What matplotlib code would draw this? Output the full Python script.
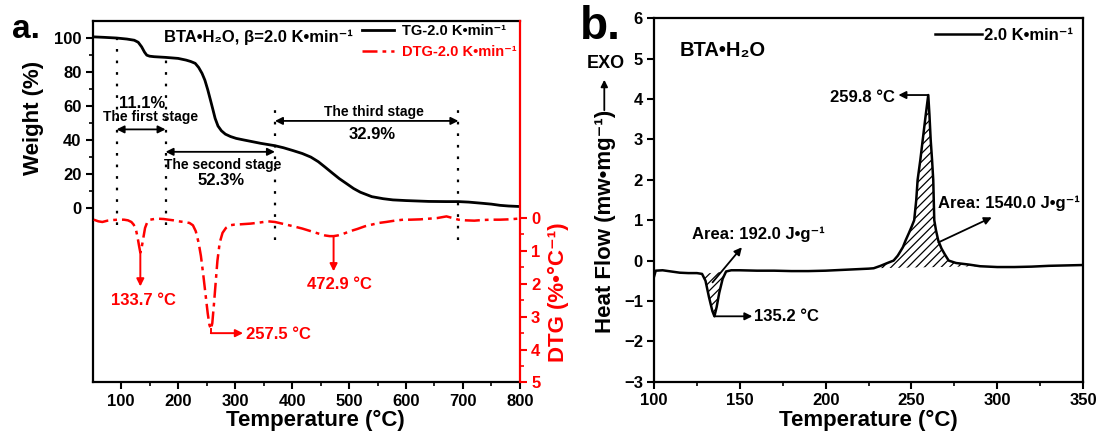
import numpy as np
import matplotlib
matplotlib.use("Agg")
import matplotlib.pyplot as plt
from matplotlib.ticker import FixedLocator, MultipleLocator

plt.rcParams['font.family'] = ['Liberation Sans', 'DejaVu Sans']
plt.rcParams['font.weight'] = 'bold'
plt.rcParams['axes.labelweight'] = 'bold'
plt.rcParams['hatch.linewidth'] = 0.9

# ---------------- data: panel a (TG / DTG) ----------------
tg_T = [50, 70, 92, 110, 123, 130, 136, 141, 145, 150, 158, 178, 200, 214, 222, 230,
        236, 242, 247, 252, 257, 261, 265, 270, 276, 283, 292, 302, 315, 327, 345, 370,
        385, 402, 418, 433, 446, 458, 470, 483, 496, 508, 520, 540, 560, 577, 600, 640,
        670, 692, 710, 734, 750, 765, 780, 800]
tg_W = [100.5, 100.2, 99.8, 99.2, 98.5, 97.3, 94.6, 91.5, 89.7, 89.1, 88.8, 88.4, 87.8,
        86.8, 86.0, 84.9, 82.5, 79.0, 75.0, 69.4, 63.0, 57.8, 52.5, 48.0, 45.2, 43.2,
        41.8, 40.7, 39.8, 39.0, 37.8, 36.4, 35.2, 33.5, 31.8, 29.7, 27.0, 23.8, 20.5,
        17.0, 14.0, 11.2, 9.0, 6.4, 5.2, 4.5, 4.1, 3.6, 3.5, 3.5, 3.2, 2.5, 2.0, 1.3,
        0.9, 0.6]

dtg_T = [52, 60, 67, 76, 85, 95, 105, 112, 118, 122, 126, 129, 131.5, 133.7, 136, 139,
         142, 146, 151, 158, 165, 175, 183, 192, 201, 210, 220, 226, 231, 236, 240, 244,
         248, 252, 255, 257.5, 260, 263, 266, 269, 273, 278, 284, 291, 299, 310, 327,
         342, 358, 370, 385, 402, 418, 433, 446, 458, 466, 472.9, 480, 490, 502, 515,
         528, 540, 552, 565, 580, 595, 608, 625, 640, 655, 671, 682, 692, 705, 720, 734,
         750, 765, 780, 796]
dtg_V = [0.05, 0.1, 0.12, 0.08, 0.06, 0.05, 0.05, 0.07, 0.12, 0.2, 0.35, 0.6, 0.85, 1.05,
         0.9, 0.6, 0.3, 0.12, 0.05, 0.03, 0.02, 0.03, 0.05, 0.07, 0.1, 0.12, 0.15, 0.22,
         0.4, 0.75, 1.15, 1.7, 2.3, 2.9, 3.25, 3.38, 3.2, 2.6, 1.95, 1.3, 0.75, 0.45, 0.3,
         0.22, 0.2, 0.19, 0.17, 0.14, 0.1, 0.12, 0.18, 0.25, 0.32, 0.4, 0.47, 0.53, 0.55,
         0.55, 0.53, 0.48, 0.4, 0.33, 0.25, 0.2, 0.15, 0.12, 0.08, 0.05, 0.05, 0.04, 0.02,
         0.0, -0.05, 0.0, 0.05, 0.07, 0.08, 0.06, 0.05, 0.05, 0.04, 0.02]

dtg_peaks = [133.7, 257.5, 472.9]
stage_bounds = [92, 178, 370, 692]
stage_loss = ['11.1%', '52.3%', '32.9%']

# ---------------- data: panel b (DSC) ----------------
dsc_T = [100, 101, 105, 110, 115, 120, 125, 128, 130, 132, 134, 135.2, 136.5, 138, 140,
         142, 145, 150, 160, 170, 180, 190, 200, 210, 220, 225, 228, 232, 236, 239.6,
         242, 245, 246.6, 248.5, 250.2, 251.6, 252.8, 253.6, 255.2, 256.6, 258.3, 259.8,
         260.5, 261.2, 262.0, 262.7, 263.0, 263.3, 264.3, 265.6, 267.5, 269.5, 271.7,
         276, 283.7, 290, 300, 310, 320, 330, 340, 350]
dsc_H = [-0.4, -0.25, -0.24, -0.27, -0.3, -0.31, -0.31, -0.33, -0.5, -0.9, -1.25, -1.38,
         -1.15, -0.8, -0.45, -0.27, -0.24, -0.24, -0.25, -0.25, -0.26, -0.26, -0.25,
         -0.23, -0.21, -0.2, -0.19, -0.13, -0.06, 0.0, 0.12, 0.33, 0.5, 0.68, 0.85, 1.0,
         1.5, 2.0, 2.5, 3.0, 3.6, 4.1, 3.6, 3.0, 2.5, 2.0, 1.5, 1.0, 0.75, 0.5, 0.3,
         0.15, 0.0, -0.06, -0.1, -0.14, -0.16, -0.16, -0.15, -0.13, -0.12, -0.11]
endo_range = (128, 142)
exo_range = (228, 290)

W, H = 1099, 432
fig = plt.figure(figsize=(W / 100, H / 100), dpi=100)

TICK_FS = 12
LAB_FS = 16
SUP = '⁻¹'

# ================= panel a =================
ax = fig.add_axes([0.0843, 0.1146, 0.3888, 0.8375])
ax2 = ax.twinx()
ax2.set_position([0.0843, 0.1146, 0.3888, 0.8375])

l_tg, = ax.plot(tg_T, tg_W, color='black', lw=2.0)
l_dtg, = ax2.plot(dtg_T, dtg_V, color='red', lw=1.8, linestyle=(0, (6, 2, 1.5, 2)))

ax.set_xlim(50, 800)
ax.set_ylim(-103, 110)
ax2.set_ylim(5, -6)

ax.xaxis.set_major_locator(MultipleLocator(100))
ax.xaxis.set_minor_locator(FixedLocator(np.arange(150, 800, 100)))
ax.yaxis.set_major_locator(FixedLocator(np.arange(0, 101, 20)))
ax.yaxis.set_minor_locator(FixedLocator(np.arange(10, 100, 20)))
ax2.yaxis.set_major_locator(FixedLocator(np.arange(0, 6, 1)))
ax2.yaxis.set_minor_locator(FixedLocator(np.arange(0.5, 5, 1)))

for a in (ax, ax2):
    for s in a.spines.values():
        s.set_linewidth(1.6)
ax.spines['right'].set_visible(False)
ax2.spines['left'].set_visible(False)
ax2.spines['top'].set_visible(False)
ax2.spines['bottom'].set_visible(False)
ax2.spines['right'].set_color('red')

ax.tick_params(axis='both', which='major', direction='out', length=5, width=1.5,
               labelsize=TICK_FS, pad=3)
ax.tick_params(axis='both', which='minor', direction='out', length=3, width=1.2)
ax.tick_params(top=False, right=False, which='both')
ax2.tick_params(axis='y', which='major', direction='out', length=5, width=1.5,
                colors='red', labelsize=TICK_FS, pad=3)
ax2.tick_params(axis='y', which='minor', direction='out', length=3, width=1.2, colors='red')
for t in ax.get_xticklabels() + ax.get_yticklabels() + ax2.get_yticklabels():
    t.set_fontweight('bold')

# vertical dotted stage boundaries
dot = (0, (1.2, 4))
tops = [103, 91.5, 57.5, 57.5]
bots = [-10.5, -10.5, -19, -19]
for xb, t, b in zip(stage_bounds, tops, bots):
    ax.plot([xb, xb], [b, t], color='black', lw=1.6, linestyle=dot)

arrow_kw = dict(arrowstyle='<|-|>', color='black', lw=1.3, mutation_scale=11,
                shrinkA=0, shrinkB=0)
ax.annotate('', xy=(stage_bounds[0], 46), xytext=(stage_bounds[1], 46), arrowprops=arrow_kw)
ax.annotate('', xy=(stage_bounds[1], 32.8), xytext=(stage_bounds[2], 32.8), arrowprops=arrow_kw)
ax.annotate('', xy=(stage_bounds[2], 51), xytext=(stage_bounds[3], 51), arrowprops=arrow_kw)

ax.text(137, 61.5, stage_loss[0], fontsize=12, fontweight='bold', ha='center', va='center')
ax.text(151, 53.3, 'The first stage', fontsize=10, fontweight='bold', ha='center', va='center')
ax.text(278, 25.3, 'The second stage', fontsize=10, fontweight='bold', ha='center', va='center')
ax.text(276, 16.0, stage_loss[1], fontsize=12, fontweight='bold', ha='center', va='center')
ax.text(543, 56.5, 'The third stage', fontsize=10, fontweight='bold', ha='center', va='center')
ax.text(541, 43.2, stage_loss[2], fontsize=12, fontweight='bold', ha='center', va='center')

ax.text(176, 100.4, 'BTA•H₂O, β=2.0 K•min' + SUP, fontsize=12, fontweight='bold',
        ha='left', va='center')

# red peak annotations
rkw = dict(arrowstyle='-|>', color='red', lw=1.4, mutation_scale=11, shrinkA=0, shrinkB=0)
d0 = dtg_V[dtg_T.index(dtg_peaks[0])]
ax2.annotate('', xy=(dtg_peaks[0], 2.08), xytext=(dtg_peaks[0], d0), arrowprops=rkw)
ax2.text(140, 2.5, f'{dtg_peaks[0]} °C', color='red', fontsize=12, fontweight='bold',
         ha='center', va='center')
d1 = dtg_V[dtg_T.index(dtg_peaks[1])]
ax2.plot([dtg_peaks[1], dtg_peaks[1]], [d1, 3.5], color='red', lw=1.4)
ax2.annotate('', xy=(314, 3.5), xytext=(dtg_peaks[1], 3.5), arrowprops=rkw)
ax2.text(319, 3.53, f'{dtg_peaks[1]} °C', color='red', fontsize=12, fontweight='bold',
         ha='left', va='center')
d2 = dtg_V[dtg_T.index(dtg_peaks[2])]
ax2.annotate('', xy=(dtg_peaks[2], 1.62), xytext=(dtg_peaks[2], d2), arrowprops=rkw)
ax2.text(483, 2.03, f'{dtg_peaks[2]} °C', color='red', fontsize=12, fontweight='bold',
         ha='center', va='center')

leg = ax2.legend([l_tg, l_dtg], ['TG-2.0 K•min' + SUP, 'DTG-2.0 K•min' + SUP],
                 loc='upper right', frameon=False, prop={'weight': 'bold', 'size': 10.5},
                 handlelength=2.2, handletextpad=0.5, labelspacing=0.45,
                 borderaxespad=0.0, borderpad=0.25, labelcolor=['black', 'red'])

# ================= panel b =================
bx = fig.add_axes([0.5951, 0.1164, 0.3904, 0.8412])
l_dsc, = bx.plot(dsc_T, dsc_H, color='black', lw=1.8)
bx.set_xlim(100, 350)
bx.set_ylim(-3, 6)
bx.xaxis.set_major_locator(MultipleLocator(50))
bx.xaxis.set_minor_locator(FixedLocator(np.arange(125, 350, 50)))
bx.yaxis.set_major_locator(MultipleLocator(1))
for s in bx.spines.values():
    s.set_linewidth(1.6)
bx.tick_params(axis='both', which='major', direction='out', length=5, width=1.5,
               labelsize=TICK_FS, pad=3)
bx.tick_params(axis='both', which='minor', direction='out', length=3, width=1.2)
for t in bx.get_xticklabels() + bx.get_yticklabels():
    t.set_fontweight('bold')

Tarr = np.array(dsc_T)
Harr = np.array(dsc_H)
for lo, hi in (endo_range, exo_range):
    m = (Tarr >= lo) & (Tarr <= hi)
    xs = Tarr[m]
    ys = Harr[m]
    base = np.interp(xs, [xs[0], xs[-1]], [ys[0], ys[-1]])
    bx.fill_between(xs, ys, base, facecolor='none', edgecolor='black', hatch='////', lw=0)

bx.text(115, 5.21, 'BTA•H₂O', fontsize=14.5, fontweight='bold', ha='left', va='center')
bx.legend([l_dsc], ['2.0 K•min' + SUP], loc='upper right', frameon=False,
          prop={'weight': 'bold', 'size': 12}, handlelength=2.8, handletextpad=0.15,
          borderaxespad=0.2, borderpad=0.4)

bkw = dict(arrowstyle='-|>', color='black', lw=1.3, mutation_scale=11, shrinkA=0, shrinkB=0)
pk = dsc_H.index(max(dsc_H))
bx.annotate('', xy=(242.4, dsc_H[pk]), xytext=(dsc_T[pk], dsc_H[pk]), arrowprops=bkw)
bx.text(240.6, 4.05, f'{dsc_T[pk]} °C', fontsize=12, fontweight='bold', ha='right', va='center')

mn = dsc_H.index(min(dsc_H))
bx.annotate('', xy=(157.3, dsc_H[mn]), xytext=(dsc_T[mn], dsc_H[mn]), arrowprops=bkw)
bx.text(158.3, dsc_H[mn], f'{dsc_T[mn]} °C', fontsize=12, fontweight='bold', ha='left',
        va='center')

bx.annotate('', xy=(151.2, 0.33), xytext=(134.1, -0.54), arrowprops=bkw)
bx.text(122, 0.66, 'Area: 192.0 J•g' + SUP, fontsize=12, fontweight='bold', ha='left',
        va='center')
bx.annotate('', xy=(296.8, 1.07), xytext=(265.7, 0.45), arrowprops=bkw)
bx.text(265.7, 1.42, 'Area: 1540.0 J•g' + SUP, fontsize=12, fontweight='bold', ha='left',
        va='center')

# ================= labels (figure coords) =================
fig.text(34 / W, 1 - 117.5 / H, 'Weight (%)', rotation=90, fontsize=LAB_FS,
         fontweight='bold', ha='center', va='center')
fig.text(558 / W, 1 - 292 / H, 'DTG (%•°C' + SUP + ')', rotation=90, fontsize=LAB_FS,
         fontweight='bold', ha='center', va='center', color='red')
fig.text(315 / W, 6 / H, 'Temperature (°C)', fontsize=LAB_FS, fontweight='bold',
         ha='center', va='baseline')
fig.text(868.5 / W, 6 / H, 'Temperature (°C)', fontsize=LAB_FS, fontweight='bold',
         ha='center', va='baseline')
fig.text(605.5 / W, 1 - 221.5 / H, 'Heat Flow (mw•mg' + SUP + ')', rotation=90,
         fontsize=LAB_FS, fontweight='bold', ha='center', va='center')
fig.text(605.7 / W, 1 - 64 / H, 'EXO', fontsize=13, fontweight='bold', ha='center',
         va='center')
fig.add_artist(matplotlib.patches.FancyArrowPatch(
    (604.3 / W, 1 - 113 / H), (604.3 / W, 1 - 77 / H), transform=fig.transFigure,
    arrowstyle='-|>', mutation_scale=10, lw=1.3, color='black'))

fig.text(12 / W, 1 - 38 / H, 'a.', fontsize=24, fontweight='bold', ha='left', va='baseline')
fig.text(580 / W, 1 - 39 / H, 'b.', fontsize=33, fontweight='bold', ha='left', va='baseline')

fig.savefig('out.png', dpi=100)
